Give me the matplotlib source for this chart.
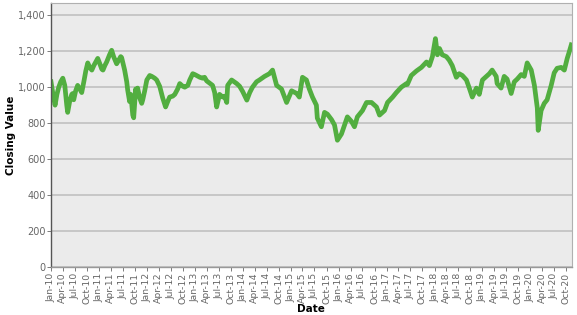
import matplotlib
matplotlib.use("Agg")
import matplotlib.pyplot as plt
import matplotlib.dates as mdates
from matplotlib.ticker import FuncFormatter
import pandas as pd

# 读图得到的收盘值（近似）
dates = [
    "2010-01-01", "2010-01-16", "2010-02-01", "2010-02-15", "2010-03-01", "2010-03-16",
    "2010-04-01", "2010-04-16", "2010-05-01", "2010-05-08", "2010-05-23", "2010-06-08",
    "2010-06-16", "2010-06-23", "2010-07-08", "2010-07-23", "2010-08-08", "2010-08-23",
    "2010-09-08", "2010-09-23", "2010-10-08", "2010-10-23", "2010-11-08", "2010-11-23",
    "2010-12-08", "2010-12-23", "2011-01-08", "2011-01-23", "2011-02-01", "2011-02-15",
    "2011-03-01", "2011-03-23", "2011-04-08", "2011-04-23", "2011-05-16", "2011-06-01",
    "2011-06-16", "2011-06-23", "2011-07-08", "2011-07-16", "2011-08-01", "2011-08-08",
    "2011-08-23", "2011-09-01", "2011-09-16", "2011-09-23", "2011-10-08", "2011-10-16",
    "2011-10-23", "2011-11-08", "2011-11-23", "2011-12-01", "2011-12-16", "2012-01-01",
    "2012-01-23", "2012-02-08", "2012-03-01", "2012-03-16", "2012-04-08", "2012-05-01",
    "2012-05-23", "2012-06-08", "2012-06-23", "2012-07-16", "2012-08-01", "2012-08-23",
    "2012-09-08", "2012-10-01", "2012-10-16", "2012-11-08", "2012-11-23", "2012-12-16",
    "2013-01-01", "2013-02-08", "2013-03-01", "2013-03-16", "2013-04-01", "2013-05-16",
    "2013-06-01", "2013-06-16", "2013-07-08", "2013-08-01", "2013-08-16", "2013-09-01",
    "2013-09-08", "2013-10-08", "2013-11-16", "2013-12-08", "2014-01-01", "2014-02-01",
    "2014-02-23", "2014-03-16", "2014-04-16", "2014-05-08", "2014-06-16", "2014-07-23",
    "2014-08-16", "2014-09-16", "2014-10-23", "2014-12-01", "2015-01-08", "2015-02-16",
    "2015-03-08", "2015-04-01", "2015-05-01", "2015-05-23", "2015-06-16", "2015-07-16",
    "2015-07-23", "2015-08-23", "2015-09-16", "2015-10-08", "2015-11-08", "2015-12-01",
    "2015-12-23", "2016-01-23", "2016-02-16", "2016-03-08", "2016-04-08", "2016-05-01",
    "2016-05-23", "2016-07-01", "2016-08-01", "2016-09-08", "2016-10-16", "2016-11-08",
    "2016-12-16", "2017-01-08", "2017-02-16", "2017-03-16", "2017-04-23", "2017-06-01",
    "2017-06-08", "2017-07-08", "2017-08-16", "2017-09-23", "2017-11-01", "2017-11-23",
    "2017-12-16", "2018-01-08", "2018-01-23", "2018-02-08", "2018-03-01", "2018-04-01",
    "2018-04-23", "2018-05-16", "2018-06-16", "2018-07-08", "2018-08-01", "2018-09-01",
    "2018-09-23", "2018-10-16", "2018-11-16", "2018-12-08", "2019-01-01", "2019-02-01",
    "2019-02-23", "2019-03-16", "2019-04-16", "2019-04-23", "2019-05-23", "2019-06-16",
    "2019-07-08", "2019-08-08", "2019-09-01", "2019-09-23", "2019-10-23", "2019-11-16",
    "2019-12-08", "2020-01-08", "2020-02-01", "2020-02-23", "2020-03-01", "2020-03-23",
    "2020-04-16", "2020-05-08", "2020-06-08", "2020-07-01", "2020-07-23", "2020-08-23",
    "2020-09-16", "2020-10-01", "2020-10-08", "2020-10-23", "2020-11-08",
]
closing = [
    1030, 960, 900, 960, 1000, 1030,
    1050, 1010, 900, 860, 920, 960,
    965, 930, 980, 1010, 990, 970,
    1030, 1090, 1135, 1110, 1095, 1120,
    1140, 1160, 1130, 1100, 1095, 1120,
    1140, 1180, 1205, 1170, 1130, 1150,
    1170, 1165, 1120, 1095, 1030, 985,
    920, 960, 845, 830, 990, 960,
    995, 940, 910, 930, 980, 1040,
    1065, 1060, 1050, 1040, 1005, 940,
    890, 920, 945, 950, 960, 990,
    1020, 1005, 1000, 1010, 1040, 1075,
    1070, 1055, 1050, 1055, 1035, 1010,
    970, 890, 960, 945, 950, 915,
    1010, 1040, 1020, 1005, 975, 928,
    970, 1000, 1030, 1040, 1060, 1075,
    1095, 1010, 990, 915, 980, 965,
    945, 1055, 1040, 990, 945, 900,
    828, 780, 860, 850, 820, 790,
    705, 740, 790, 835, 810, 780,
    835, 870, 915, 915, 890, 845,
    870, 915, 945, 970, 1000, 1020,
    1015, 1065, 1090, 1110, 1140, 1120,
    1170, 1270, 1180, 1215, 1180, 1170,
    1150, 1120, 1055, 1075, 1065, 1040,
    995, 945, 995, 960, 1040, 1060,
    1075, 1095, 1060, 1020, 995, 1060,
    1045, 965, 1030, 1045, 1070, 1060,
    1135, 1095, 1010, 885, 760, 870,
    910, 930, 1010, 1080, 1105, 1110,
    1095, 1140, 1160, 1195, 1235,
]

x = pd.to_datetime(dates)

fig = plt.figure(figsize=(5.77, 3.15), dpi=100)
ax = fig.add_axes([0.0884, 0.152, 0.9026, 0.838])
ax.set_facecolor("#EBEBEB")

ax.plot(x, closing, color="#52AE40", linewidth=3.4, solid_joinstyle="round")

ax.set_ylim(0, 1467)
ax.set_yticks(range(0, 1401, 200))
ax.yaxis.set_major_formatter(FuncFormatter(lambda v, p: f"{int(v):,}"))
ax.grid(True, axis="y", color="#C4C4C4", linewidth=1.3)
ax.set_axisbelow(True)

ax.set_xlim(pd.Timestamp("2010-01-01"), pd.Timestamp("2020-11-12"))
ax.xaxis.set_major_locator(mdates.MonthLocator(bymonth=(1, 4, 7, 10)))
ax.xaxis.set_major_formatter(mdates.DateFormatter("%b-%y"))

for lbl in ax.get_xticklabels():
    lbl.set_rotation(90)

ax.tick_params(axis="x", labelsize=6.7, colors="#666666", length=3, width=0.6, pad=1)
ax.tick_params(axis="y", labelsize=7, colors="#666666", length=3, width=0.6, pad=1)

for side in ["top", "right"]:
    ax.spines[side].set_color("#B0B0B0")
    ax.spines[side].set_linewidth(0.8)
ax.spines["left"].set_color("#555555")
ax.spines["left"].set_linewidth(1.0)
ax.spines["bottom"].set_color("#999999")
ax.spines["bottom"].set_linewidth(1.0)

ax.set_ylabel("Closing Value", fontsize=7.5, fontweight="bold", labelpad=1)
ax.set_xlabel("Date", fontsize=7.5, fontweight="bold", labelpad=0)

fig.savefig("out.png", dpi=100)
